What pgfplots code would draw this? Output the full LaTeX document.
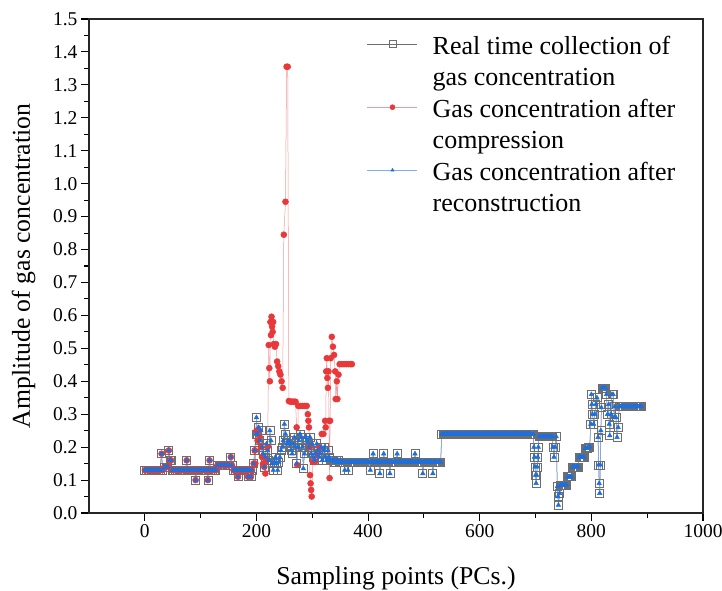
\documentclass[border=0pt]{standalone}
\usepackage{fontspec}
\setmainfont{Liberation Serif}
\usepackage{pgfplots}
\pgfplotsset{compat=1.18}
\usepackage{pgfplotstable}

\definecolor{sqgray}{HTML}{6E6E6E}
\definecolor{redm}{HTML}{E8383A}
\definecolor{redl}{HTML}{F29A9A}
\definecolor{bluem}{HTML}{1F6FDB}
\definecolor{bluel}{HTML}{7FAEF0}

\pgfplotstableread{
x y
0 0.13
3 0.13
6 0.13
9 0.13
12 0.13
15 0.13
18 0.13
21 0.13
24 0.13
27 0.13
30 0.18
32 0.13
35 0.14
38 0.14
41 0.14
43 0.19
45 0.16
47 0.16
49 0.13
52 0.13
55 0.13
58 0.13
61 0.13
64 0.13
67 0.13
70 0.13
73 0.13
75 0.16
77 0.13
80 0.13
83 0.13
86 0.13
89 0.13
91 0.10
93 0.13
96 0.13
99 0.13
102 0.13
105 0.13
108 0.13
111 0.13
113 0.10
114 0.13
116 0.16
118 0.13
121 0.13
124 0.13
127 0.13
130 0.145
133 0.145
136 0.145
139 0.145
142 0.145
145 0.145
148 0.145
151 0.145
154 0.17
156 0.145
159 0.13
162 0.13
165 0.13
167 0.11
169 0.13
172 0.13
175 0.13
178 0.13
181 0.13
183 0.13
185 0.11
187 0.13
190 0.11
192 0.13
195 0.15
197 0.19
199 0.24
200 0.29
202 0.24
204 0.26
206 0.22
208 0.25
210 0.20
212 0.18
214 0.14
216 0.17
218 0.21
220 0.19
222 0.16
224 0.25
226 0.22
228 0.15
230 0.13
232 0.155
234 0.17
236 0.15
238 0.13
240 0.155
242 0.17
244 0.19
246 0.20
248 0.22
250 0.27
252 0.24
254 0.21
256 0.21
258 0.22
260 0.21
262 0.19
264 0.18
266 0.21
268 0.23
270 0.20
272 0.15
274 0.20
276 0.22
278 0.24
280 0.23
282 0.20
284 0.135
286 0.18
288 0.23
290 0.22
292 0.215
294 0.20
296 0.23
298 0.18
300 0.21
302 0.17
304 0.16
306 0.18
308 0.21
310 0.19
312 0.17
314 0.18
316 0.20
318 0.16
320 0.19
322 0.20
324 0.17
326 0.16
328 0.19
330 0.17
332 0.16
334 0.16
336 0.16
338 0.16
340 0.155
342 0.155
344 0.16
346 0.16
348 0.155
350 0.155
352 0.155
354 0.155
356 0.155
358 0.13
360 0.155
362 0.155
364 0.13
366 0.155
368 0.155
370 0.155
372 0.155
374 0.155
376 0.155
378 0.155
380 0.155
382 0.155
384 0.155
386 0.155
388 0.155
390 0.155
392 0.155
394 0.155
396 0.155
398 0.155
400 0.155
402 0.155
404 0.13
406 0.155
408 0.155
409 0.18
411 0.155
413 0.155
415 0.155
417 0.155
419 0.155
421 0.12
423 0.155
425 0.155
426 0.155
428 0.18
430 0.155
432 0.155
434 0.155
436 0.155
437 0.155
439 0.12
441 0.155
443 0.155
445 0.155
447 0.155
449 0.155
450 0.155
452 0.18
454 0.155
456 0.155
458 0.155
460 0.155
462 0.155
464 0.155
466 0.155
468 0.155
470 0.155
472 0.155
474 0.155
476 0.155
478 0.155
480 0.155
482 0.155
484 0.18
486 0.155
488 0.155
490 0.155
492 0.155
494 0.155
496 0.155
498 0.12
500 0.155
502 0.155
504 0.155
506 0.155
508 0.155
510 0.155
512 0.155
514 0.155
516 0.12
518 0.155
520 0.155
522 0.155
524 0.155
526 0.155
528 0.155
530 0.155
532 0.24
534 0.24
536 0.24
538 0.24
540 0.24
542 0.24
544 0.24
546 0.24
548 0.24
550 0.24
552 0.24
554 0.24
556 0.24
558 0.24
560 0.24
562 0.24
564 0.24
566 0.24
568 0.24
570 0.24
572 0.24
574 0.24
576 0.24
578 0.24
580 0.24
582 0.24
584 0.24
586 0.24
588 0.24
590 0.24
592 0.24
594 0.24
596 0.24
598 0.24
600 0.24
602 0.24
604 0.24
606 0.24
608 0.24
610 0.24
612 0.24
614 0.24
616 0.24
618 0.24
620 0.24
622 0.24
624 0.24
626 0.24
628 0.24
630 0.24
632 0.24
634 0.24
636 0.24
638 0.24
640 0.24
642 0.24
644 0.24
646 0.24
648 0.24
650 0.24
652 0.24
654 0.24
656 0.24
658 0.24
660 0.24
662 0.24
664 0.24
666 0.24
668 0.24
670 0.24
672 0.24
674 0.24
676 0.24
678 0.24
680 0.24
682 0.24
684 0.24
686 0.24
688 0.24
690 0.24
692 0.24
694 0.24
696 0.24
697 0.20
698 0.17
699 0.14
700 0.115
701 0.09
702 0.115
703 0.14
704 0.17
705 0.20
706 0.232
708 0.232
710 0.232
712 0.232
714 0.232
716 0.232
718 0.232
720 0.232
722 0.232
724 0.232
726 0.232
728 0.232
730 0.232
731 0.20
733 0.17
735 0.20
737 0.232
739 0.08
740 0.05
741 0.024
743 0.06
745 0.085
746.5 0.085
748 0.085
749.5 0.085
751 0.085
752.5 0.085
754 0.085
755.5 0.085
757 0.11
758.5 0.11
760 0.11
761.5 0.11
763 0.11
764.5 0.11
766 0.14
767.5 0.14
769 0.14
770.5 0.14
772 0.14
773.5 0.14
775 0.14
776.5 0.14
778 0.17
779.5 0.17
781 0.17
782.5 0.17
784 0.17
785.5 0.17
787 0.17
789 0.197
790.5 0.197
792 0.197
793.5 0.197
795 0.20
797 0.20
799 0.27
800 0.36
801 0.33
802 0.30
804 0.27
806 0.30
808 0.33
810 0.35
812 0.23
813 0.146
814 0.09
815 0.06
816 0.146
817 0.25
818 0.32
819 0.38
820.5 0.38
822 0.38
823.5 0.38
825 0.38
827 0.36
829 0.30
831 0.33
832 0.27
833 0.235
835 0.30
837 0.36
839 0.36
841 0.29
842 0.323
844 0.29
846 0.23
848 0.26
850 0.323
852 0.323
854 0.323
856 0.323
858 0.323
860 0.323
862 0.323
864 0.323
866 0.323
868 0.323
870 0.323
872 0.323
874 0.323
876 0.323
878 0.323
880 0.323
882 0.323
884 0.323
886 0.323
888 0.323
890 0.323
}\realdata

\pgfplotstableread{
x y
197 0.19
198 0.15
200 0.25
202 0.22
204 0.25
206 0.23
208 0.20
210 0.17
212 0.15
214 0.14
216 0.12
218 0.16
220 0.20
222 0.51
223 0.44
224 0.40
225 0.58
226 0.54
227 0.596
228 0.566
229 0.55
230 0.58
231 0.513
233 0.505
235 0.513
237 0.46
239 0.446
241 0.43
243 0.42
245 0.40
247 0.38
249 0.845
252 0.945
254 1.355
256 1.355
258 0.34
261 0.338
264 0.338
267 0.338
270 0.338
272 0.26
273 0.146
275 0.325
278 0.325
282 0.325
286 0.325
290 0.325
292 0.30
293 0.28
294 0.26
295 0.20
296 0.115
297 0.09
298 0.07
299 0.05
301 0.156
305 0.156
309 0.18
313 0.20
317 0.24
320 0.24
323 0.28
324 0.26
325 0.43
326 0.47
327 0.41
328 0.38
329 0.43
330 0.28
331 0.106
332 0.28
333 0.47
335 0.535
337 0.505
339 0.48
341 0.43
342 0.346
344 0.40
345 0.346
347 0.42
349 0.452
353 0.452
357 0.452
361 0.452
365 0.452
369 0.452
371 0.452
}\compdata

\begin{document}
\begin{tikzpicture}
\useasboundingbox (-89pt,-77pt) rectangle (633pt,513pt);
\begin{axis}[
  at={(0pt,0pt)}, anchor=south west,
  scale only axis, width=614pt, height=494pt,
  xmin=-100, xmax=1000, ymin=0, ymax=1.5,
  xtick={0,200,400,600,800,1000}, minor x tick num=1,
  ytick={0,0.1,0.2,0.3,0.4,0.5,0.6,0.7,0.8,0.9,1.0,1.1,1.2,1.3,1.4,1.5},
  minor y tick num=1,
  tick pos=left, tick align=outside,
  major tick length=8pt, minor tick length=5pt,
  every tick/.style={black, line width=1.1pt},
  axis line style={line width=1.3pt, black!85},
  /pgf/number format/assume math mode=true,
  yticklabel style={/pgf/number format/.cd, fixed, fixed zerofill, precision=1},
  xticklabel style={/pgf/number format/.cd, fixed, set thousands separator={}},
  tick label style={font=\fontsize{19.5}{19.5}\selectfont},
  xlabel={Sampling points (PCs.)},
  ylabel={Amplitude of gas concentration},
  label style={font=\fontsize{25.7}{25.7}\selectfont},
  xlabel style={at={([yshift=-65pt]axis description cs:0.5,0)}, anchor=center},
  ylabel style={at={([xshift=-50pt]axis description cs:0,0.5)}, anchor=south},
  legend cell align=left,
  legend image code/.code={
    \draw[mark repeat=2,mark phase=2,#1] plot coordinates {(0pt,0pt) (25pt,0pt) (50pt,0pt)};
  },
  legend style={at={(axis description cs:0.4528,0.9737)}, anchor=north west,
    draw=none, fill=none, inner sep=0pt, row sep=7.5pt, column sep=15pt,
    font=\fontsize{26}{26}\selectfont,
    nodes={inner xsep=0pt, inner ysep=0pt, text height=22pt, text depth=2pt}},
]
\addplot[color=sqgray, line width=0.5pt, mark=square, mark size=4pt,
  mark options={draw=sqgray, line width=0.7pt},
  legend image post style={mark size=3.5pt}] table {\realdata};
\addlegendentry{Real time collection of}
\addlegendimage{empty legend}
\addlegendentry{gas concentration}

\addplot[color=redl, line width=0.5pt, mark=*, mark size=3pt,
  mark options={draw=redm, fill=redm},
  restrict x to domain=-10:197,
  legend image post style={mark size=2.5pt}] table {\realdata};
\addlegendentry{Gas concentration after}
\addlegendimage{empty legend}
\addlegendentry{compression}
\addplot[forget plot, color=redl, line width=0.5pt, mark=*, mark size=3pt,
  mark options={draw=redm, fill=redm}] table {\compdata};

\addplot[color=bluel, line width=0.5pt, mark=triangle*, mark size=2.6pt,
  mark options={draw=bluem, fill=bluem},
  legend image post style={mark size=1.8pt}] table {\realdata};
\addlegendentry{Gas concentration after}
\addlegendimage{empty legend}
\addlegendentry{reconstruction}
\end{axis}
\end{tikzpicture}
\end{document}
